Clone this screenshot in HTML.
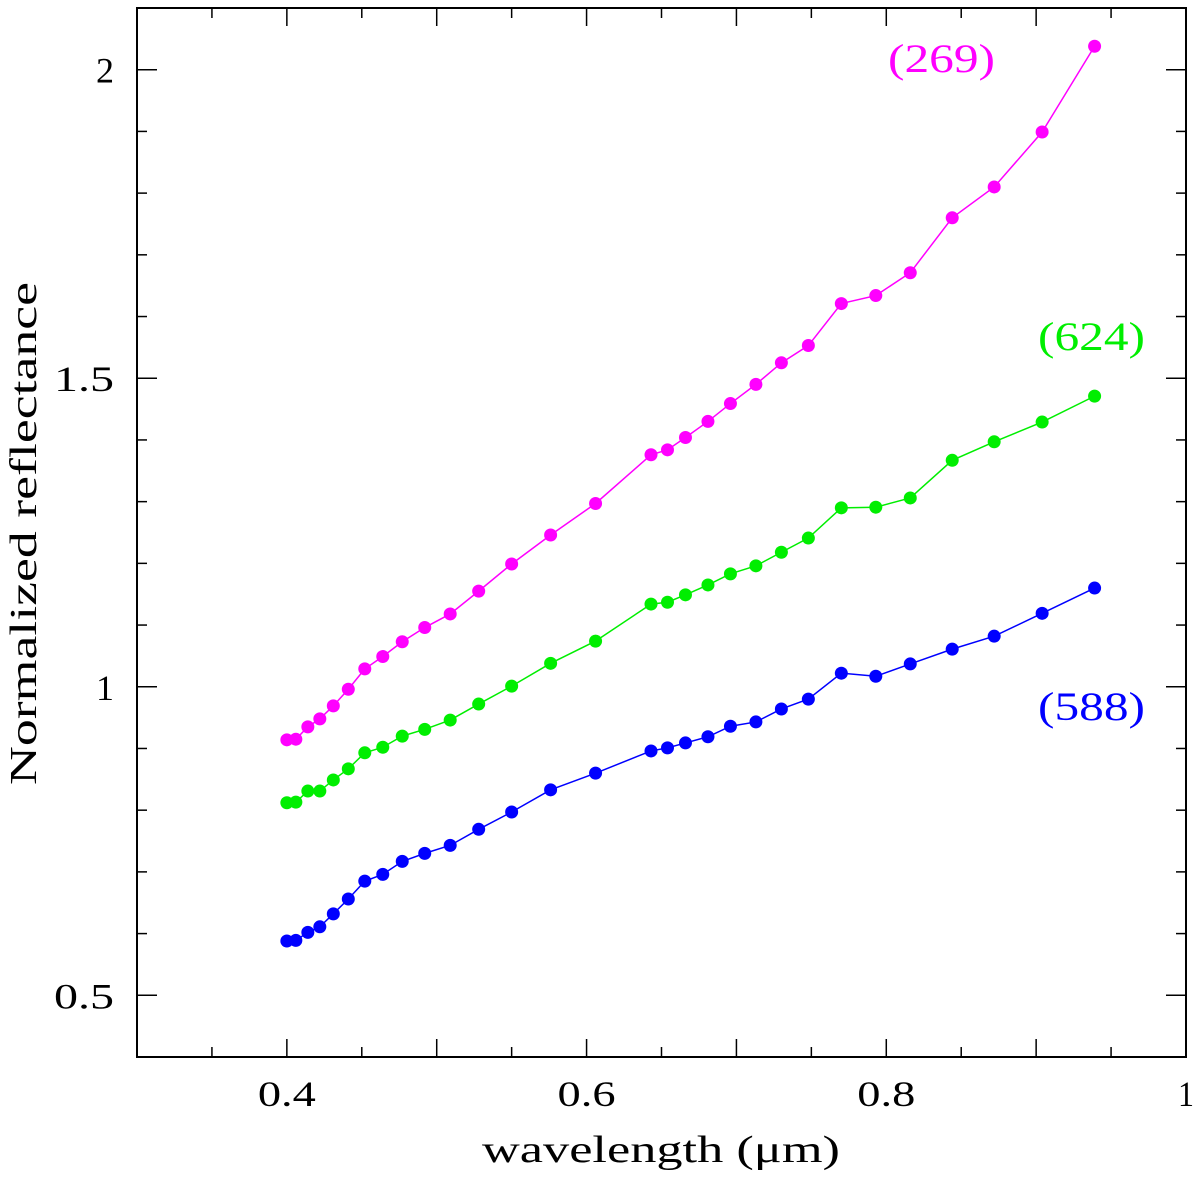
<!DOCTYPE html>
<html><head><meta charset="utf-8"><style>
html,body{margin:0;padding:0;background:#fff;}
svg{display:block;font-family:"Liberation Serif",serif;}
</style></head><body>
<svg id="chart" width="1200" height="1178" viewBox="0 0 1200 1178"></svg>
<script>
const wavelengths=[0.4,0.406,0.414,0.422,0.431,0.441,0.452,0.464,0.477,0.492,0.509,0.528,0.55,0.576,0.606,0.643,0.654,0.666,0.681,0.696,0.713,0.730,0.748,0.770,0.793,0.816,0.844,0.872,0.904,0.939];
const series269=[0.914,0.915,0.935,0.948,0.969,0.996,1.029,1.049,1.073,1.096,1.118,1.155,1.199,1.246,1.297,1.376,1.384,1.404,1.430,1.459,1.490,1.525,1.553,1.621,1.634,1.671,1.760,1.810,1.899,2.038];
const series624=[0.812,0.813,0.831,0.831,0.849,0.867,0.893,0.902,0.920,0.931,0.946,0.972,1.001,1.038,1.074,1.134,1.137,1.149,1.165,1.183,1.196,1.218,1.241,1.290,1.291,1.306,1.367,1.397,1.429,1.471];
const series588=[0.588,0.589,0.602,0.611,0.632,0.656,0.685,0.696,0.717,0.730,0.743,0.769,0.797,0.833,0.860,0.896,0.901,0.909,0.919,0.936,0.943,0.964,0.980,1.022,1.017,1.037,1.061,1.082,1.119,1.160];
const xTicks=[0.4,0.6,0.8,1];
const xTickLabels=["0.4","0.6","0.8","1"];
const yTicks=[0.5,1,1.5,2];
const yTickLabels=["0.5","1","1.5","2"];

const L=137,R=1186,T=8,B=1057,X0=0.3,X1=1.0,Y0=0.4,Y1=2.1;
const sx=v=>L+(v-X0)/(X1-X0)*(R-L);
const sy=v=>B-(v-Y0)/(Y1-Y0)*(B-T);
const svg=document.getElementById('chart');
const NS='http://www.w3.org/2000/svg';
function mk(tag,attrs){const e=document.createElementNS(NS,tag);for(const k in attrs)e.setAttribute(k,attrs[k]);svg.appendChild(e);return e;}

const frame=mk('rect',{x:L,y:T,width:R-L,height:B-T,fill:'none',stroke:'#000','stroke-width':2});



for(let i=0;i<=14;i++){
  const v=X0+i*0.05;const x=sx(v);const len=(i%2==0)?18:10;
  const t1=mk('line',{x1:x,y1:B,x2:x,y2:B-len,stroke:'#000','stroke-width':1.5});
  
  
  const t2=mk('line',{x1:x,y1:T,x2:x,y2:T+len,stroke:'#000','stroke-width':1.5});
  
  
}
for(let i=0;i<=17;i++){
  const v=Y0+i*0.1;const y=sy(v);const len=(Math.abs((v*10)%5)<0.01||Math.abs((v*10)%5-5)<0.01)?20:10;
  const t1=mk('line',{x1:L,y1:y,x2:L+len,y2:y,stroke:'#000','stroke-width':1.5});
  
  
  const t2=mk('line',{x1:R,y1:y,x2:R-len,y2:y,stroke:'#000','stroke-width':1.5});
  
  
}
xTicks.forEach((v,i)=>{
  const s=xTickLabels[i];
  const t=mk('text',{x:sx(v),y:1106,'text-anchor':'middle','font-size':36,fill:'#000',textLength:s.length>1?58:16,lengthAdjust:'spacingAndGlyphs'});
  t.textContent=s;
  
  
});
yTicks.forEach((v,i)=>{
  const s=yTickLabels[i];
  const t=mk('text',{x:114,y:sy(v)+13,'text-anchor':'end','font-size':36,fill:'#000',textLength:s.length>1?60:18,lengthAdjust:'spacingAndGlyphs'});
  t.textContent=s;
  
  
});
const xt=mk('text',{x:482,y:1162,'font-size':38,fill:'#000',textLength:358,lengthAdjust:'spacingAndGlyphs'});
xt.textContent='wavelength (\u03bcm)';


const yt=mk('text',{x:0,y:0,'font-size':38,fill:'#000',textLength:503,lengthAdjust:'spacingAndGlyphs',transform:'translate(36,785) rotate(-90)'});
yt.textContent='Normalized reflectance';



function drawSeries(vals,color,name){
  const pts=wavelengths.map((w,i)=>sx(w)+','+sy(vals[i])).join(' ');
  const pl=mk('polyline',{points:pts,fill:'none',stroke:color,'stroke-width':1.5});
  
  
  wavelengths.forEach((w,i)=>{
    const c=mk('circle',{cx:sx(w),cy:sy(vals[i]),r:6.5,fill:color});
    
    
  });
}
drawSeries(series269,'#ff00ff','series-269');
drawSeries(series624,'#00ee00','series-624');
drawSeries(series588,'#0000ff','series-588');

function lbl(txt,x,y,color,name){
  const t=mk('text',{x:x,y:y,'font-size':40,fill:color,textLength:107,lengthAdjust:'spacingAndGlyphs'});
  t.textContent=txt;
  
  
}
lbl('(269)',888,72,'#ff00ff','label-269');
lbl('(624)',1038,350,'#00ee00','label-624');
lbl('(588)',1038,720,'#0000ff','label-588');
</script>
</body></html>
